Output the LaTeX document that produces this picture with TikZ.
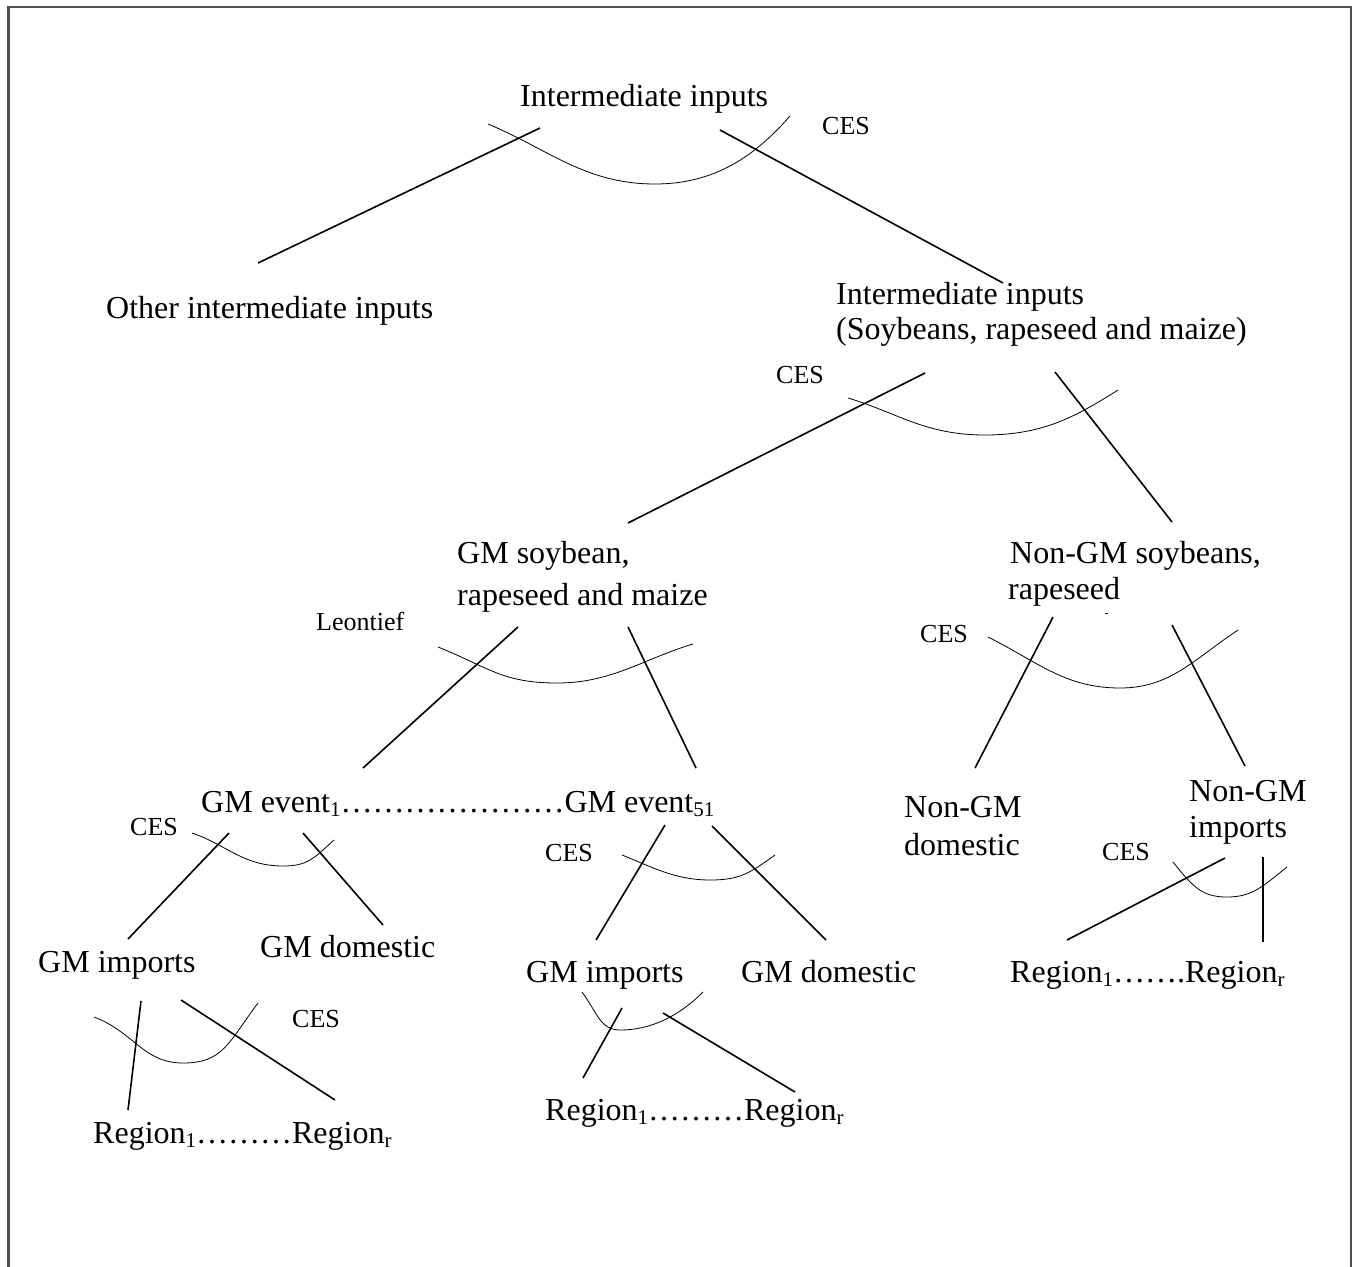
\documentclass[tikz,border=0pt]{standalone}
\usepackage{fontspec}
\setmainfont{Liberation Serif}
% lowered, smaller index as used in the region and event names
\newcommand\lowsub[1]{\raisebox{-4pt}{\fontsize{21}{21}\selectfont #1}}
\tikzset{
  big/.style={inner sep=0pt, anchor=base west, font=\fontsize{32}{38}\selectfont},
  small/.style={inner sep=0pt, anchor=base west, font=\fontsize{26}{30}\selectfont},
  branch/.style={line width=1.6pt},
  nest/.style={line width=0.8pt},
  frame/.style={line width=2.5pt, draw={rgb,255:red,80;green,80;blue,80}}
}
\begin{document}
\begin{tikzpicture}[x=1pt,y=-1pt]
\useasboundingbox (0,0) rectangle (1356,1266);
\draw[frame] (8.5,1270) -- (8.5,7) -- (1351,7) -- (1351,1270);

% ---- texts ----
\node[big] (top) at (520,106) {Intermediate inputs};
\node[small] (cesA) at (822,134) {CES};
\node[big] (other) at (106,318) {Other intermediate inputs};
\node[big] (soyA) at (836,304) {Intermediate inputs};
\node[big] (soyB) at (836,339) {(Soybeans, rapeseed and maize)};
\node[small] (cesB) at (776,383) {CES};
\node[big] (gmA) at (457,563) {GM soybean,};
\node[big] (gmB) at (457,605) {rapeseed and maize};
\node[small] (leon) at (316,630) {Leontief};
\node[big] (ngA) at (1010,563) {Non-GM soybeans,};
\node[big] (ngB) at (1008,599) {rapeseed};
\node[small] (cesC) at (920,642) {CES};
\node[big] (events) at (201,812) {GM event\lowsub{1}\dots\dots\dots\dots\dots\dots\dots GM event\lowsub{51}};
\node[big] (ndA) at (904,817) {Non-GM};
\node[big] (ndB) at (904,855) {domestic};
\node[big] (niA) at (1189,801) {Non-GM};
\node[big] (niB) at (1189,837) {imports};
\node[small] (cesD) at (130,835) {CES};
\node[small] (cesE) at (545,861) {CES};
\node[small] (cesF) at (1102,860) {CES};
\node[big] (impL) at (38,972) {GM imports};
\node[big] (domL) at (260,957) {GM domestic};
\node[big] (impM) at (526,982) {GM imports};
\node[big] (domM) at (741,982) {GM domestic};
\node[big] (regR) at (1010,982) {Region\lowsub{1}\dots\dots.Region\lowsub{r}};
\node[small] (cesG) at (292,1027) {CES};
\node[big] (regM) at (545,1120) {Region\lowsub{1}\dots\dots\dots Region\lowsub{r}};
\node[big] (regL) at (93,1143) {Region\lowsub{1}\dots\dots\dots Region\lowsub{r}};

% ---- branch end points ----
\coordinate (t1) at (540,128);  \coordinate (o1) at (258,263);
\coordinate (t2) at (720,130);  \coordinate (s1) at (1003,283);
\coordinate (s2) at (925,373);  \coordinate (g1) at (628,523);
\coordinate (s3) at (1055,372); \coordinate (n1) at (1172,522);
\coordinate (g2) at (518,627);  \coordinate (e1) at (363,768);
\coordinate (g3) at (628,627);  \coordinate (e2) at (696,768);
\coordinate (n2) at (1053,617); \coordinate (d1) at (975,768);
\coordinate (n3) at (1172,625); \coordinate (i1) at (1245,766);
\coordinate (e3) at (229,833);  \coordinate (p1) at (128,939);
\coordinate (e4) at (303,833);  \coordinate (q1) at (383,925);
\coordinate (e5) at (665,825);  \coordinate (p2) at (596,940);
\coordinate (e6) at (712,826);  \coordinate (q2) at (826,940);
\coordinate (i2) at (1225,858); \coordinate (r1) at (1067,940);
\coordinate (i3) at (1263,857); \coordinate (r2) at (1263,942);
\coordinate (p3) at (141,1001); \coordinate (r3) at (128,1110);
\coordinate (p4) at (181,1000); \coordinate (r4) at (335,1100);
\coordinate (p5) at (622,1008); \coordinate (r5) at (583,1078);
\coordinate (p6) at (663,1013); \coordinate (r6) at (795,1092);

\draw[branch] (t1) -- (o1);
\draw[branch] (t2) -- (s1);
\draw[branch] (s2) -- (g1);
\draw[branch] (s3) -- (n1);
\draw[branch] (g2) -- (e1);
\draw[branch] (g3) -- (e2);
\draw[branch] (n2) -- (d1);
\draw[branch] (n3) -- (i1);
\draw[branch] (e3) -- (p1);
\draw[branch] (e4) -- (q1);
\draw[branch] (e5) -- (p2);
\draw[branch] (e6) -- (q2);
\draw[branch] (i2) -- (r1);
\draw[branch] (i3) -- (r2);
\draw[branch] (p3) -- (r3);
\draw[branch] (p4) -- (r4);
\draw[branch] (p5) -- (r5);
\draw[branch] (p6) -- (r6);
\coordinate (dotA) at (1105,613); \coordinate (dotB) at (1108,613);
\draw[line width=0.8pt] (dotA) -- (dotB);

% ---- nesting arcs ----
\coordinate (aS) at (488,124); \coordinate (aM) at (655,184); \coordinate (aE) at (790,116);
\draw[nest] (aS) .. controls +(60,25) and +(-70,0) .. (aM) .. controls +(60,0) and +(-35,40) .. (aE);
\coordinate (bS) at (848,398); \coordinate (bM) at (985,435); \coordinate (bE) at (1118,390);
\draw[nest] (bS) .. controls +(50,15) and +(-60,0) .. (bM) .. controls +(60,0) and +(-40,25) .. (bE);
\coordinate (cS) at (438,647); \coordinate (cM) at (557,683); \coordinate (cE) at (693,644);
\draw[nest] (cS) .. controls +(50,20) and +(-55,0) .. (cM) .. controls +(55,0) and +(-50,15) .. (cE);
\coordinate (dS) at (988,637); \coordinate (dM) at (1120,688); \coordinate (dE) at (1238,630);
\draw[nest] (dS) .. controls +(50,25) and +(-55,0) .. (dM) .. controls +(50,0) and +(-45,30) .. (dE);
\coordinate (eS) at (192,833); \coordinate (eM) at (283,866); \coordinate (eE) at (334,840);
\draw[nest] (eS) .. controls +(35,12) and +(-40,0) .. (eM) .. controls +(25,0) and +(-20,18) .. (eE);
\coordinate (fS) at (622,855); \coordinate (fM) at (710,880); \coordinate (fE) at (775,855);
\draw[nest] (fS) .. controls +(30,12) and +(-35,0) .. (fM) .. controls +(30,0) and +(-25,18) .. (fE);
\coordinate (hS) at (1173,862); \coordinate (hM) at (1227,897); \coordinate (hE) at (1287,867);
\draw[nest] (hS) .. controls +(20,25) and +(-25,0) .. (hM) .. controls +(25,0) and +(-25,20) .. (hE);
\coordinate (kS) at (94,1017); \coordinate (kM) at (183,1063); \coordinate (kE) at (258,1003);
\draw[nest] (kS) .. controls +(40,15) and +(-40,0) .. (kM) .. controls +(40,0) and +(-30,40) .. (kE);
\coordinate (mS) at (582,992); \coordinate (mM) at (620,1030); \coordinate (mE) at (703,992);
\draw[nest] (mS) .. controls +(15,20) and +(-20,0) .. (mM) .. controls +(30,0) and +(-25,25) .. (mE);
\end{tikzpicture}
\end{document}
